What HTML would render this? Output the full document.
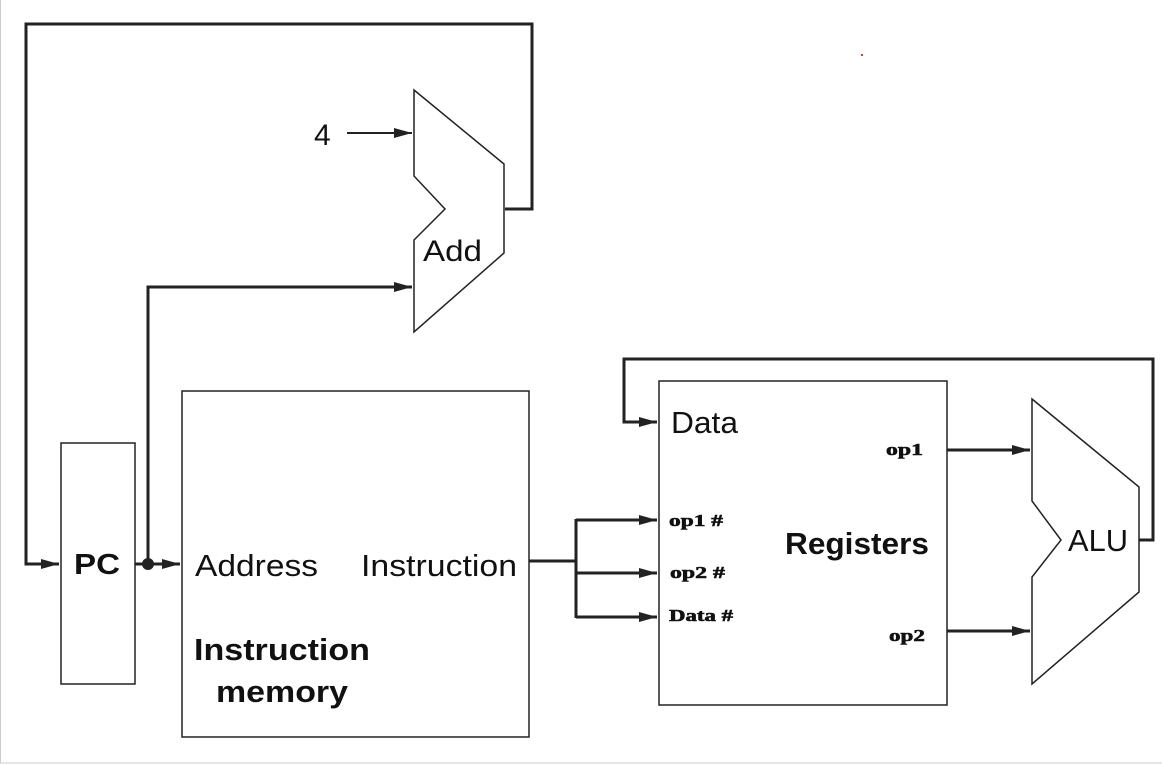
<!DOCTYPE html>
<html><head><meta charset="utf-8"><style>
html,body{margin:0;padding:0;background:#fff;}
svg{display:block;}
text{font-family:"Liberation Sans",sans-serif;fill:#111;}
.s{font-family:"Liberation Serif",serif;font-weight:bold;font-size:17px;stroke:#111;stroke-width:0.6px;}
</style></head><body>
<svg width="1162" height="765" viewBox="0 0 1162 765" xmlns="http://www.w3.org/2000/svg">
<defs>
<marker id="b" markerWidth="18" markerHeight="10" refX="18" refY="5" orient="auto" markerUnits="userSpaceOnUse">
<path d="M0,0 L18,5 L0,10 Z" fill="#222"/></marker>
</defs>
<rect x="0.5" y="-1" width="1170" height="764" fill="none" stroke="#ccc" stroke-width="1"/>
<g fill="none" stroke="#222" stroke-width="1.5">
<rect x="61" y="443" width="74" height="241"/>
<rect x="182" y="391" width="347" height="346"/>
<rect x="659" y="381" width="288" height="324"/>
<polygon points="414,90 504,164 504,253 414,332 414,240 445,209 414,176"/>
<polygon points="1032,399 1139,487 1139,592 1032,684 1032,577 1061,540 1032,501"/>
</g>
<g fill="none" stroke="#222" stroke-width="3">
<polyline points="505,209 532,209 532,24 26,24 26,564 59,564" marker-end="url(#b)"/>
<polyline points="135,564 180,564" marker-end="url(#b)"/>
<polyline points="148,564 148,287 412,287" marker-end="url(#b)"/>
<polyline points="529,561 576,561"/>
<polyline points="576,519 576,618"/>
<polyline points="576,520 657,520" marker-end="url(#b)"/>
<polyline points="576,573 657,573" marker-end="url(#b)"/>
<polyline points="576,617 657,617" marker-end="url(#b)"/>
<polyline points="947,450 1030,450" marker-end="url(#b)"/>
<polyline points="947,631 1030,631" marker-end="url(#b)"/>
<polyline points="1139,540 1153,540 1153,359 624,359 624,422 657,422" marker-end="url(#b)"/>
</g>
<polyline points="347,133 412,133" fill="none" stroke="#222" stroke-width="2" marker-end="url(#b)"/>
<circle cx="148" cy="564" r="6" fill="#222"/>
<circle cx="862" cy="55" r="1" fill="#c00"/>
<text x="314" y="145" font-size="30">4</text>
<text x="423" y="261" font-size="30" textLength="59" lengthAdjust="spacingAndGlyphs">Add</text>
<text x="74" y="574" font-size="29" font-weight="bold" textLength="46" lengthAdjust="spacingAndGlyphs">PC</text>
<text x="195" y="576" font-size="31" textLength="123" lengthAdjust="spacingAndGlyphs">Address</text>
<text x="361" y="576" font-size="31" textLength="156" lengthAdjust="spacingAndGlyphs">Instruction</text>
<text x="194" y="660" font-size="31" font-weight="bold" textLength="176" lengthAdjust="spacingAndGlyphs">Instruction</text>
<text x="216" y="702" font-size="31" font-weight="bold" textLength="132" lengthAdjust="spacingAndGlyphs">memory</text>
<text x="671" y="433" font-size="31" textLength="67" lengthAdjust="spacingAndGlyphs">Data</text>
<text x="785" y="554" font-size="31" font-weight="bold" textLength="144" lengthAdjust="spacingAndGlyphs">Registers</text>
<text x="1068" y="551" font-size="31" textLength="60" lengthAdjust="spacingAndGlyphs">ALU</text>
<text class="s" x="886" y="455" textLength="37" lengthAdjust="spacingAndGlyphs">op1</text>
<text class="s" x="889" y="641" textLength="36" lengthAdjust="spacingAndGlyphs">op2</text>
<text class="s" x="669" y="526" textLength="54" lengthAdjust="spacingAndGlyphs">op1 #</text>
<text class="s" x="670" y="578" textLength="55" lengthAdjust="spacingAndGlyphs">op2 #</text>
<text class="s" x="669" y="621" textLength="64" lengthAdjust="spacingAndGlyphs">Data #</text>
</svg>
</body></html>
